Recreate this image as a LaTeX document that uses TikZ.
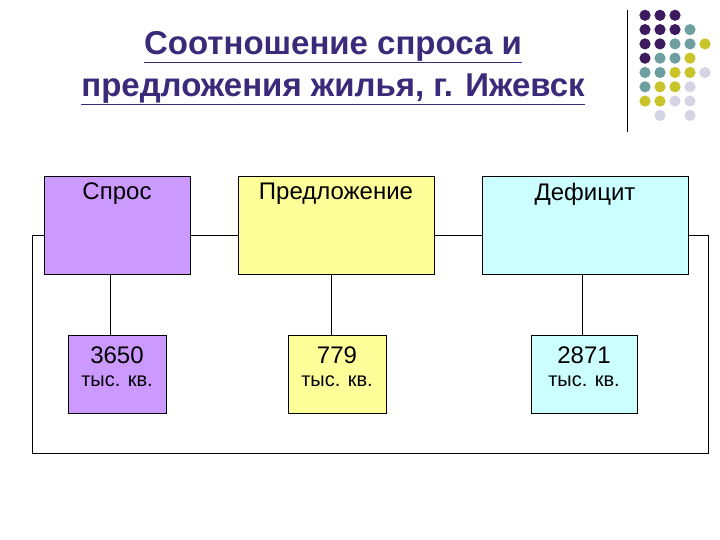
\documentclass[tikz,border=0pt]{standalone}
\usepackage{fontspec}
\setmainfont{Liberation Sans}
\definecolor{ttl}{HTML}{3A2A7A}
\definecolor{dk}{HTML}{3D1A5E}
\definecolor{tl}{HTML}{6E9FA0}
\definecolor{yl}{HTML}{C8C42A}
\definecolor{lv}{HTML}{D4D4E4}
\definecolor{purp}{HTML}{CC99FF}
\definecolor{yel}{HTML}{FFFF99}
\definecolor{cy}{HTML}{CCFFFF}
\begin{document}
\begin{tikzpicture}[x=1pt,y=-1pt,
 bx/.style={draw,thick,anchor=north west,inner sep=0pt},
 txt/.style={font=\fontsize{24}{26}\selectfont},
 ln/.style={draw,line width=0.8pt}]
\useasboundingbox (0,0) rectangle (720,540);
\node[text=ttl,font=\bfseries\fontsize{33}{42}\selectfont,align=center] (title) at (333,68) {\underline{Соотношение спроса и}\\\underline{предложения жилья, г. Ижевск}};
\draw[line width=1pt] (627,10) coordinate (v1) -- (627,132) coordinate (v2);
\foreach \c [count=\r] in {{dk,dk,dk,,},{dk,dk,dk,tl,},{dk,dk,tl,tl,yl},{dk,tl,tl,yl,},{tl,tl,yl,yl,lv},{tl,yl,yl,lv,},{yl,yl,lv,lv,},{,lv,,lv,}}{
 \foreach \col [count=\k] in \c {
  \ifx\col\empty\else
   \fill[\col] (630+15*\k,1+14.3*\r) circle (5.6);
  \fi}}
\node[bx,fill=purp,minimum width=146,minimum height=98] (a) at (44,176) {};
\node[bx,fill=yel,minimum width=196,minimum height=98] (b) at (238,176) {};
\node[bx,fill=cy,minimum width=206,minimum height=98] (c) at (482,176) {};
\node[txt] (ta) at (117,194) {Спрос};
\node[txt] (tb) at (336,194) {Предложение};
\node[txt] (tc) at (585,194) {Дефицит};
\node[bx,fill=purp,minimum width=98,minimum height=78] (a2) at (68,335) {};
\node[bx,fill=yel,minimum width=98,minimum height=78] (b2) at (288,335) {};
\node[bx,fill=cy,minimum width=106,minimum height=78] (c2) at (531,335) {};
\node[txt] (na) at (117,355) {3650};
\node[txt] (nb) at (337,355) {779};
\node[txt] (nc) at (584,355) {2871};
\foreach \x/\n in {117/ua,337/ub,584/uc}
 \node[font=\fontsize{20}{22}\selectfont] (\n) at (\x,381) {тыс. кв.};
\draw[ln] (a.east |- 0,235) -- (b.west |- 0,235);
\draw[ln] (b.east |- 0,235) -- (c.west |- 0,235);
\draw[ln] (a.west |- 0,235) -- (32,235) -- (32,453) -- (708,453) -- (708,235) -- (c.east |- 0,235);
\draw[ln] (110,274) -- (110,335);
\draw[ln] (331,274) -- (331,335);
\draw[ln] (582,274) -- (582,335);
\end{tikzpicture}
\end{document}
